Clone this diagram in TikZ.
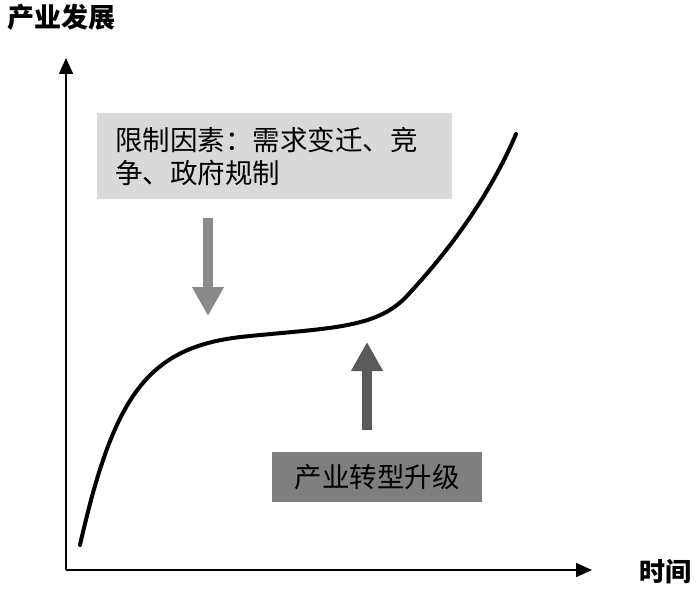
\documentclass[tikz,border=0pt]{standalone}
\usepackage{fontspec}
\setmainfont{Noto Sans CJK SC}
\usetikzlibrary{arrows.meta,positioning}
\definecolor{limgray}{HTML}{D9D9D9}
\definecolor{upggray}{HTML}{7F7F7F}
\definecolor{downarrow}{HTML}{8A8A8A}
\definecolor{uparrow}{HTML}{5A5A5A}

\begin{document}
\begin{tikzpicture}[
  x=1pt, y=-1pt,
  axis/.style={draw=black, line width=2pt, -{Triangle[width=14pt,length=16pt]}},
  growth/.style={draw=black, line width=4pt, line cap=round},
  blockarrow/.style={line width=10pt, -{Triangle[width=30pt,length=29pt]}},
  every node/.style={inner sep=0pt, align=left}
]
\useasboundingbox (0,0) rectangle (700,591);

% axes
\coordinate (O) at (66,570);
\coordinate (ytip) at (66,58);
\coordinate (xtip) at (592,570);
\draw[axis] (O) -- (ytip);
\draw[axis] (O) -- (xtip);
\node[font=\fontsize{27}{30}\selectfont\bfseries] (ylabel) at (61,17) {产业发展};
\node[font=\fontsize{26}{30}\selectfont\bfseries] (xlabel) at (665,572) {时间};

% growth curve
\draw[growth] (80,545) .. controls (115,390) and (150,345) .. (250,336)
  .. controls (330,328) and (375,328) .. (405,298)
  .. controls (450,250) and (490,195) .. (516,134);

% limiting factors
\node[fill=limgray, anchor=north west, minimum width=355pt, minimum height=86pt,
  text width=319pt, inner xsep=18pt, font=\fontsize{27.5}{33}\selectfont] (limit) at (97,113)
  {限制因素：需求变迁、竞\\争、政府规制};
\coordinate (dstart) at (208,218);
\coordinate (dend) at (208,316);
\draw[blockarrow, draw=downarrow] (dstart) -- (dend);

% upgrading
\node[fill=upggray, minimum width=210pt, minimum height=50pt,
  font=\fontsize{27.5}{30}\selectfont] (upgrade) at (377,477) {产业转型升级};
\coordinate (ustart) at (367,430);
\coordinate (uend) at (367,342);
\draw[blockarrow, draw=uparrow] (ustart) -- (uend);
\end{tikzpicture}
\end{document}
